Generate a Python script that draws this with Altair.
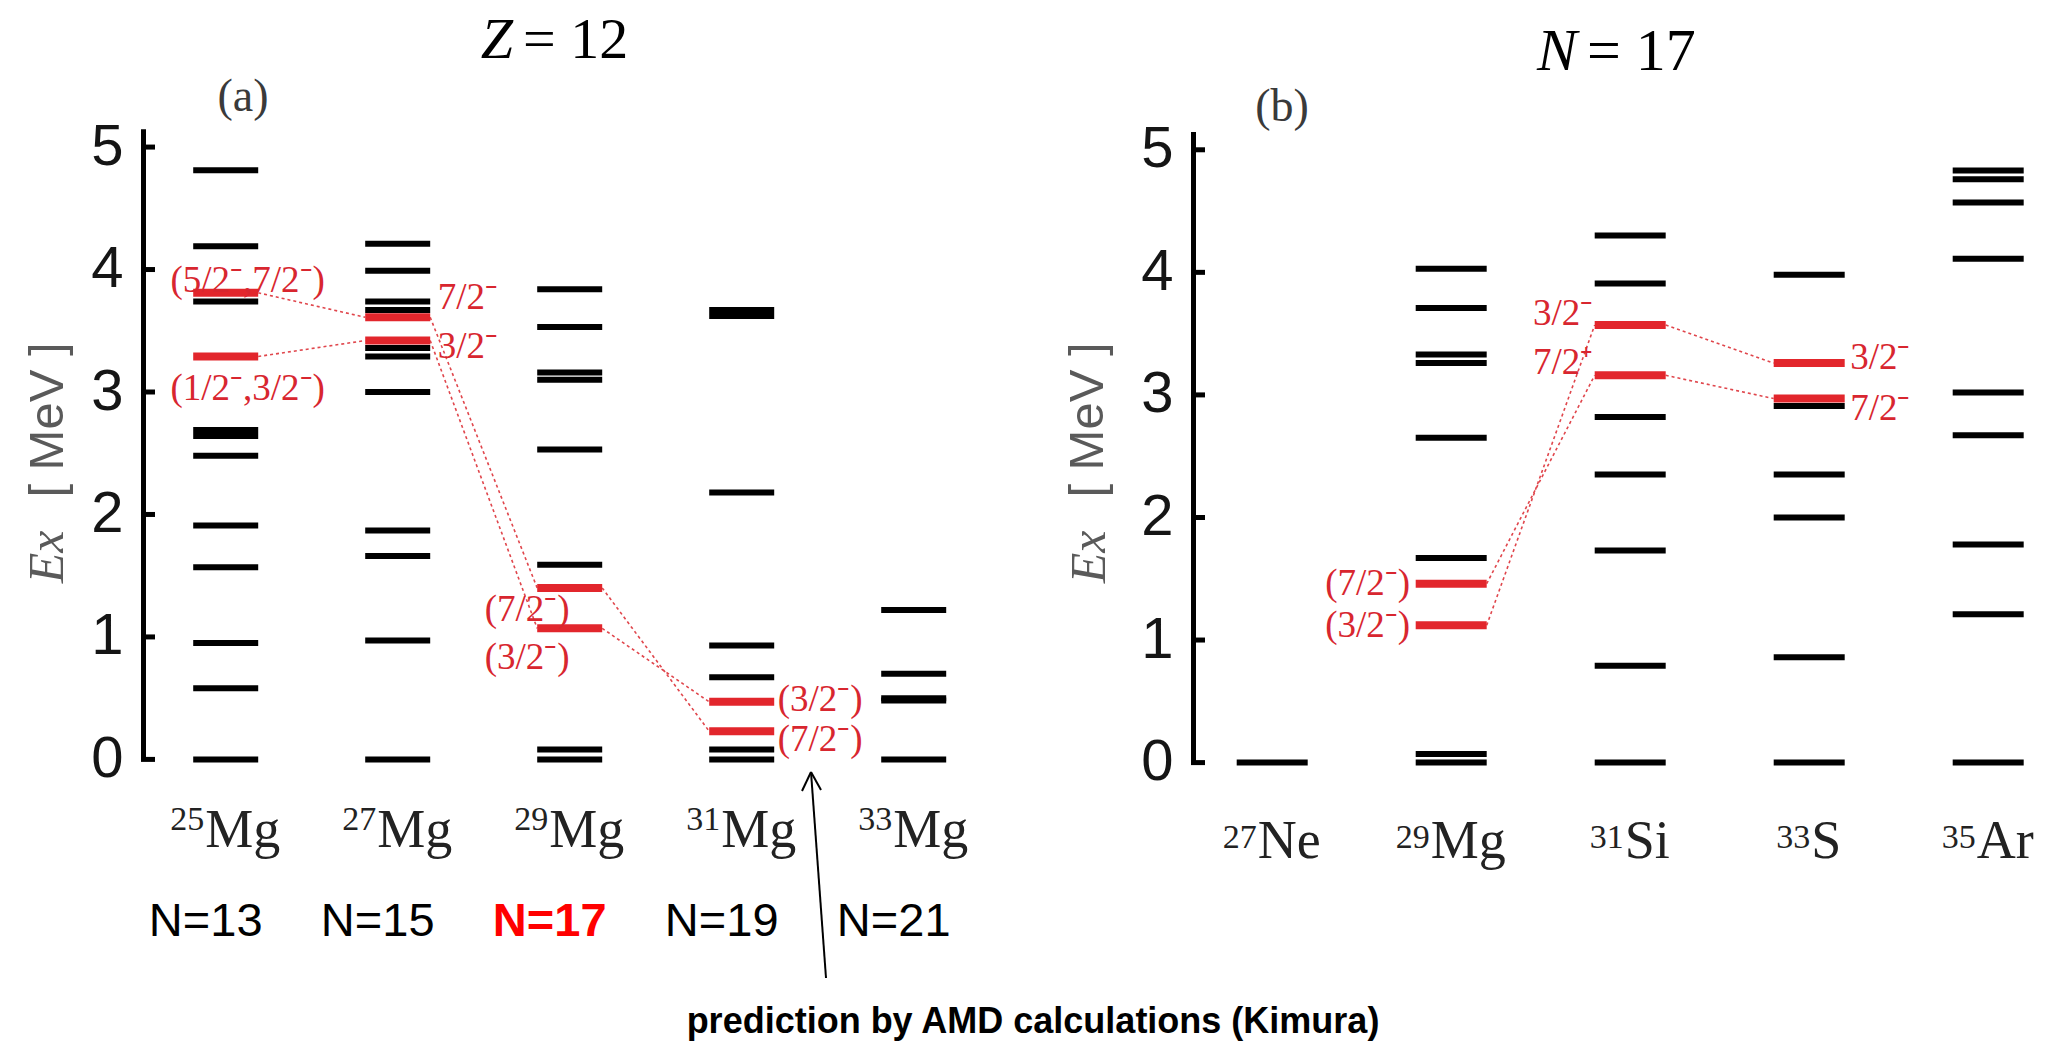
import altair as alt
import pandas as pd

# ======================= DATA =======================
# ---- panel (a): Z = 12 isotopes ----
nuclei_a = ["25Mg", "27Mg", "29Mg", "31Mg", "33Mg"]
mass_a = ["25", "27", "29", "31", "33"]
symbol_a = ["Mg", "Mg", "Mg", "Mg", "Mg"]
n_label_a = ["N=13", "N=15", "N=17", "N=19", "N=21"]
highlight_n = "N=17"

mg25_black = [0.00, 0.58, 0.95, 1.57, 1.91, 2.48, 2.64, 2.69, 3.74, 4.19, 4.81]
mg27_black = [0.00, 0.97, 1.66, 1.87, 3.00, 3.29, 3.36, 3.67, 3.74, 3.99, 4.21]
mg29_black = [0.00, 0.08, 1.59, 2.53, 3.10, 3.16, 3.53, 3.84]
mg31_black = [0.00, 0.08, 0.67, 0.93, 2.18, 3.62, 3.67]
mg33_black = [0.00, 0.48, 0.50, 0.70, 1.22]

mg25_red = [3.29, 3.81]
mg25_spin = ["(1/2\u207b,3/2\u207b)", "(5/2\u207b,7/2\u207b)"]
mg25_family = ["3/2", "7/2"]
mg27_red = [3.42, 3.61]
mg27_spin = ["3/2\u207b", "7/2\u207b"]
mg27_family = ["3/2", "7/2"]
mg29_red = [1.07, 1.40]
mg29_spin = ["(3/2\u207b)", "(7/2\u207b)"]
mg29_family = ["3/2", "7/2"]
mg31_red = [0.23, 0.47]
mg31_spin = ["(7/2\u207b)", "(3/2\u207b)"]
mg31_family = ["7/2", "3/2"]

# ---- panel (b): N = 17 isotones ----
nuclei_b = ["27Ne", "29Mg", "31Si", "33S", "35Ar"]
mass_b = ["27", "29", "31", "33", "35"]
symbol_b = ["Ne", "Mg", "Si", "S", "Ar"]

ne27_black = [0.00]
mg29b_black = [0.00, 0.07, 1.67, 2.65, 3.26, 3.33, 3.71, 4.03]
si31_black = [0.00, 0.79, 1.73, 2.35, 2.82, 3.91, 4.30]
s33_black = [0.00, 0.86, 2.00, 2.35, 2.91, 3.98]
ar35_black = [0.00, 1.21, 1.78, 2.67, 3.02, 4.11, 4.57, 4.76, 4.83]

mg29b_red = [1.12, 1.46]
mg29b_spin = ["(3/2\u207b)", "(7/2\u207b)"]
mg29b_family = ["3/2", "7/2"]
si31_red = [3.16, 3.57]
si31_spin = ["7/2\u207a", "3/2\u207b"]
si31_family = ["7/2", "3/2"]
s33_red = [2.97, 3.26]
s33_spin = ["7/2\u207b", "3/2\u207b"]
s33_family = ["7/2", "3/2"]

y_ticks = [0, 1, 2, 3, 4, 5]

# ======================= LAYOUT / STYLE =======================
W, H = 1900, 636
PAD = {"left": 143, "top": 128, "right": 12, "bottom": 280}
RED = "#e2262c"
RED_TXT = "#d8262f"
LINK = "#e0464c"
SERIF = "Liberation Serif"
SANS = "Liberation Sans"

XA = alt.Scale(domain=[1, 5], range=[82.7, 770.7])
XB = alt.Scale(domain=[1, 5], range=[1129.2, 1845.2])
YA = alt.Scale(domain=[0, 5.15], range=[631.4, 0.7])
YB = alt.Scale(domain=[0, 5.15], range=[634.6, 3.4])
PX_A, PX_B = 172.0, 179.0
PY_A, PY_B = 630.7 / 5.15, 631.2 / 5.15
HALF_A, HALF_B = 32.5 / PX_A, 35.5 / PX_B
SPIN_SIZE = 37

# placement of spin labels: (column, family) -> (align, dx px, dy px)
LAYOUT_A = {
    (1, "7/2"): ("center", 22, -12), (1, "3/2"): ("center", 22, 33),
    (2, "7/2"): ("left", 40, -19), (2, "3/2"): ("left", 40, 6),
    (3, "7/2"): ("right", 0, 22), (3, "3/2"): ("right", 0, 30),
    (4, "3/2"): ("left", 36, -2), (4, "7/2"): ("left", 36, 9),
}
LAYOUT_B = {
    (2, "7/2"): ("right", -41, 0), (2, "3/2"): ("right", -41, 1),
    (3, "3/2"): ("right", -37, -11), (3, "7/2"): ("right", -37, -12),
    (4, "3/2"): ("left", 41, -5), (4, "7/2"): ("left", 41, 10),
}
GLYPH = {"M": .889, "g": .5, "N": .722, "e": .444, "S": .556, "i": .278, "A": .722, "r": .333}
SYM_SIZE, MASS_SIZE = 54, 34

black_a = [mg25_black, mg27_black, mg29_black, mg31_black, mg33_black]
red_a = [(mg25_red, mg25_spin, mg25_family), (mg27_red, mg27_spin, mg27_family),
         (mg29_red, mg29_spin, mg29_family), (mg31_red, mg31_spin, mg31_family), None]
black_b = [ne27_black, mg29b_black, si31_black, s33_black, ar35_black]
red_b = [None, (mg29b_red, mg29b_spin, mg29b_family), (si31_red, si31_spin, si31_family),
         (s33_red, s33_spin, s33_family), None]


def level_df(lists, half):
    rows = []
    for i, lv in enumerate(lists):
        if not lv:
            continue
        c = i + 1
        for e in lv:
            rows.append({"E": e, "x1": c - half, "x2": c + half})
    return pd.DataFrame(rows)


def red_levels(reds):
    return [r[0] if r else None for r in reds]


def link_df(reds, half):
    rows = []
    for i in range(len(reds) - 1):
        a, b = reds[i], reds[i + 1]
        if not a or not b:
            continue
        for ea, fa in zip(a[0], a[2]):
            for eb, fb in zip(b[0], b[2]):
                if fa == fb:
                    rows.append({"xa": i + 1 + half, "ya": ea, "xb": i + 2 - half, "yb": eb})
    return pd.DataFrame(rows)


def spin_df(reds, layout, px, py):
    rows = []
    for i, r in enumerate(reds):
        if not r:
            continue
        for e, s, f in zip(*r):
            align, dx, dy = layout[(i + 1, f)]
            rows.append({"text": s, "align": align, "x": i + 1 + dx / px, "y": e - dy / py})
    return pd.DataFrame(rows)


def nuclide_df(mass, sym, px):
    rows = []
    for i, (m, s) in enumerate(zip(mass, sym)):
        sw = sum(GLYPH[ch] for ch in s) * SYM_SIZE
        mw = len(m) * 0.5 * MASS_SIZE
        rows.append({"mass": m, "sym": s, "x": i + 1 + (mw - sw) / 2 / px})
    return pd.DataFrame(rows)


def panel(black, reds, layout, XS, YS, px, py, half, mass, sym, sym_base, mass_base, axis):
    layers = []
    ticks = pd.DataFrame({"v": y_ticks})
    x0 = axis["x0"]
    layers.append(
        alt.Chart(ticks).mark_rule(color="black", strokeWidth=5).encode(
            y=alt.Y("v:Q", scale=YS, axis=axis["axis"]),
            x=alt.value(x0 - 2), x2=alt.value(x0 + 12))
    )
    layers.append(
        alt.Chart(link_df(reds, half)).mark_rule(color=LINK, strokeWidth=1.6, strokeDash=[3, 3]).encode(
            x=alt.X("xa:Q", scale=XS, axis=None), y=alt.Y("ya:Q", scale=YS, axis=None),
            x2="xb:Q", y2="yb:Q")
    )
    layers.append(
        alt.Chart(level_df(black, half)).mark_rule(color="black", strokeWidth=6).encode(
            x=alt.X("x1:Q", scale=XS, axis=None), x2="x2:Q",
            y=alt.Y("E:Q", scale=YS, axis=None))
    )
    layers.append(
        alt.Chart(level_df(red_levels(reds), half)).mark_rule(color=RED, strokeWidth=8).encode(
            x=alt.X("x1:Q", scale=XS, axis=None), x2="x2:Q",
            y=alt.Y("E:Q", scale=YS, axis=None))
    )
    sdf = spin_df(reds, layout, px, py)
    for al in ["left", "right", "center"]:
        sub = sdf[sdf["align"] == al]
        if len(sub) == 0:
            continue
        layers.append(
            alt.Chart(sub).mark_text(align=al, baseline="middle", font=SERIF, fontSize=SPIN_SIZE,
                                     color=RED_TXT).encode(
                x=alt.X("x:Q", scale=XS, axis=None), y=alt.Y("y:Q", scale=YS, axis=None),
                text="text:N")
        )
    ndf = nuclide_df(mass, sym, px)
    layers.append(
        alt.Chart(ndf).mark_text(align="left", baseline="alphabetic", font=SERIF,
                                 fontSize=SYM_SIZE, color="#222").encode(
            x=alt.X("x:Q", scale=XS, axis=None), y=alt.value(sym_base), text="sym:N")
    )
    layers.append(
        alt.Chart(ndf).mark_text(align="right", baseline="alphabetic", font=SERIF,
                                 fontSize=MASS_SIZE, color="#222", dx=-1).encode(
            x=alt.X("x:Q", scale=XS, axis=None), y=alt.value(mass_base), text="mass:N")
    )
    return layers


axis_common = dict(values=y_ticks, format="d", ticks=False, grid=False, title=None,
                   domainColor="black", domainWidth=5, labelFont=SANS, labelFontSize=58,
                   labelColor="#151515", labelPadding=20, labelFlush=False, labelOverlap=False)
axis_a = alt.Axis(**axis_common)
axis_b = alt.Axis(orient="left", offset=-1050, **axis_common)

layers = []
layers += panel(black_a, red_a, LAYOUT_A, XA, YA, PX_A, PY_A, HALF_A, mass_a, symbol_a,
                719, 702, {"x0": 0, "axis": axis_a})
layers += panel(black_b, red_b, LAYOUT_B, XB, YB, PX_B, PY_B, HALF_B, mass_b, symbol_b,
                730, 720, {"x0": 1050, "axis": axis_b})

# neutron-number labels under panel (a)
n_df = pd.DataFrame({"text": n_label_a, "x": [i + 1 - 20 / PX_A for i in range(5)]})
n_df["hl"] = n_df["text"] == highlight_n
layers.append(
    alt.Chart(n_df[~n_df["hl"]]).mark_text(align="center", baseline="middle", font=SANS,
                                          fontSize=47, color="black").encode(
        x=alt.X("x:Q", scale=XA, axis=None), y=alt.value(794), text="text:N")
)
layers.append(
    alt.Chart(n_df[n_df["hl"]]).mark_text(align="center", baseline="middle", font=SANS,
                                         fontSize=47, fontWeight="bold", color="#ff0000").encode(
        x=alt.X("x:Q", scale=XA, axis=None), y=alt.value(794), text="text:N")
)

one = pd.DataFrame({"k": [0]})


def txt(text, x, y, **kw):
    return alt.Chart(one).mark_text(text=text, **kw).encode(x=alt.value(x), y=alt.value(y))


layers += [
    txt("Z", 370, -70, align="right", baseline="alphabetic", font=SERIF, fontSize=58,
        fontStyle="italic", color="black"),
    txt("= 12", 380, -70, align="left", baseline="alphabetic", font=SERIF, fontSize=58, color="black"),
    txt("N", 1434, -58, align="right", baseline="alphabetic", font=SERIF, fontSize=60,
        fontStyle="italic", color="black"),
    txt("= 17", 1444, -58, align="left", baseline="alphabetic", font=SERIF, fontSize=60, color="black"),
    txt("(a)", 100, -31, align="center", baseline="middle", font=SERIF, fontSize=46, color="#3a3a3a"),
    txt("(b)", 1139, -21, align="center", baseline="middle", font=SERIF, fontSize=46, color="#3a3a3a"),
    txt("Ex", -95, 429, align="center", baseline="middle", angle=270, font=SERIF, fontSize=50,
        fontStyle="italic", color="#5a5a5a"),
    txt("[ MeV ]", -95, 292, align="center", baseline="middle", angle=270, font=SANS, fontSize=49,
        color="#5a5a5a"),
    txt("Ex", 947, 429, align="center", baseline="middle", angle=270, font=SERIF, fontSize=50,
        fontStyle="italic", color="#5a5a5a"),
    txt("[ MeV ]", 945, 292, align="center", baseline="middle", angle=270, font=SANS, fontSize=49,
        color="#5a5a5a"),
    txt("prediction by AMD calculations (Kimura)", 890, 894, align="center", baseline="middle",
        font=SANS, fontSize=36, fontWeight="bold", color="black"),
]

# arrow pointing at the AMD prediction
for (xa, ya, xb, yb) in [(683, 850, 668, 644), (668, 644, 659, 663), (668, 644, 678, 662)]:
    layers.append(
        alt.Chart(one).mark_rule(color="black", strokeWidth=2).encode(
            x=alt.value(xa), y=alt.value(ya), x2=alt.value(xb), y2=alt.value(yb))
    )

chart = alt.layer(*layers).resolve_scale(x="independent", y="independent").properties(
    width=W, height=H, padding=PAD, autosize=alt.AutoSizeParams(type="none"),
    background="white",
).configure_view(stroke=None)

chart.save("out.html", embed_options={"renderer": "svg", "actions": False})
